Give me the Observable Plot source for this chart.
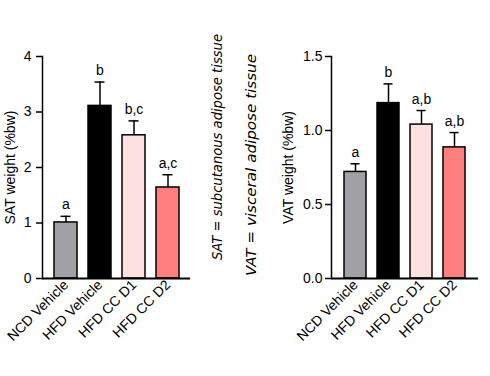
<!DOCTYPE html>
<html><head><meta charset="utf-8">
<script src="https://cdn.jsdelivr.net/npm/d3@7"></script>
<script src="https://cdn.jsdelivr.net/npm/@observablehq/plot@0.6"></script>
<style>
html,body{margin:0;padding:0;background:#fff;}
#wrap{position:relative;width:490px;height:376px;overflow:hidden;font-family:"Liberation Sans",Arial,sans-serif;}
#wrap > svg{position:absolute;top:0;}
#wrap svg.panel, #wrap svg.panel text{font-family:"Liberation Sans",Arial,sans-serif !important;font-size:14px !important;font-stretch:normal !important;}
</style></head><body><div id="wrap"></div>
<script>
const groups = ["NCD Vehicle","HFD Vehicle","HFD CC D1","HFD CC D2"];
const colors = ["#a1a1a5","#000000","#fde0e2","#ff7f80"];
const satMean = [1.01, 3.11, 2.58, 1.64];
const satSem = [0.11, 0.43, 0.26, 0.23];
const satLetters = ["a","b","b,c","a,c"];
const satTicks = [0,1,2,3,4];
const vatMean = [0.72, 1.185, 1.04, 0.886];
const vatSem = [0.055, 0.13, 0.095, 0.10];
const vatLetters = ["a","b","a,b","a,b"];
const vatTicks = [0,0.5,1,1.5];
const notes = ["SAT = subcutanous adipose tissue","VAT = visceral adipose tissue"];

function panel(mean, sem, letters, o) {
  const data = groups.map((g,i)=>({g, m:mean[i], top:mean[i]+sem[i], l:letters[i]}));
  const svg = Plot.plot({
    width: o.width, height: 376,
    marginLeft: o.ml, marginRight: o.mr, marginTop: 56, marginBottom: 98,
    style: {background: "transparent", overflow: "visible", color: "#000"},
    x: {domain: groups, padding: 0.33, label: null},
    y: {domain: o.domain},
    color: {domain: groups, range: colors},
    marks: [
      Plot.ruleX(data, {x: "g", y1: "m", y2: "top", stroke: "#000", strokeWidth: 1.5}),
      Plot.tickY(data, {x: "g", y: "top", stroke: "#000", strokeWidth: 1.5, insetLeft: 6.5, insetRight: 6.5}),
      Plot.barY(data, {x: "g", y: "m", fill: "g", stroke: "#000", strokeWidth: 1.5}),
      Plot.text(data, {x: "g", y: "top", text: "l", dy: -7, lineAnchor: "bottom", fill: "#000"}),
      Plot.axisY({ticks: o.ticks, tickFormat: o.fmt, tickSize: 6, tickPadding: o.tp, strokeWidth: 1.5,
        label: o.label, labelAnchor: "center", labelArrow: "none", labelOffset: o.lo}),
      Plot.axisX({tickSize: 0, tickRotate: -45, tickPadding: 4, label: null}),
      Plot.frame({anchor: "left", strokeWidth: 1.5}),
      Plot.ruleY([0], {strokeWidth: 1.8})
    ]
  });
  svg.classList.add("panel");
  return svg;
}

const wrap = d3.select("#wrap");
const p1 = panel(satMean, satSem, satLetters, {width: 200, ml: 42, mr: 10, domain: [0,4], ticks: satTicks, fmt: d3.format("d"), label: "SAT weight (%bw)", lo: 37, tp: 5});
const p2 = panel(vatMean, vatSem, vatLetters, {width: 230, ml: 71, mr: 12, domain: [0,1.5], ticks: vatTicks, fmt: d3.format(".1f"), label: "VAT weight (%bw)", lo: 48, tp: 3});
d3.select(p1).style("left", "0px");
d3.select(p2).style("left", "260px");
wrap.node().appendChild(p1);
wrap.node().appendChild(p2);

const mid = wrap.append("svg").attr("width", 70).attr("height", 376).style("left", "195px");
const notePos = [{x: 22, y: 147, len: 226}, {x: 56, y: 165, len: 222}];
mid.selectAll("text").data(notes).join("text")
  .attr("transform", (d,i) => `translate(${notePos[i].x},${notePos[i].y}) rotate(-90)`)
  .attr("text-anchor", "middle")
  .attr("dominant-baseline", "central")
  .attr("textLength", (d,i) => notePos[i].len)
  .attr("lengthAdjust", "spacingAndGlyphs")
  .style("font-family", "'DejaVu Sans', sans-serif")
  .style("font-style", "italic")
  .style("font-stretch", "condensed")
  .style("font-size", "14px")
  .style("fill", "#000")
  .text(d => d);
</script></body></html>
